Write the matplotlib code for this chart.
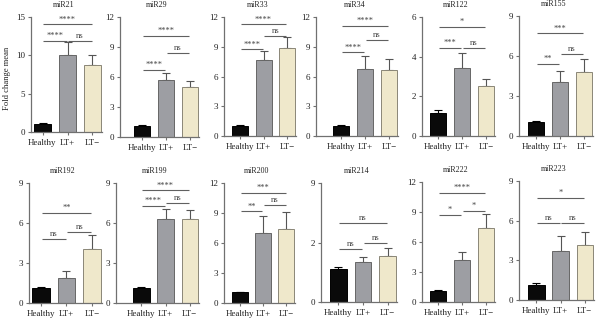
import matplotlib
matplotlib.use("Agg")
import matplotlib.pyplot as plt

plt.rcParams['font.family'] = ['Liberation Serif', 'DejaVu Serif']

groups = ["Healthy", "LT+", "LT\u2212"]
names = ["miR21", "miR29", "miR33", "miR34", "miR122", "miR155",
         "miR192", "miR199", "miR200", "miR214", "miR222", "miR223"]

means = {
    "miR21": [1.04, 10.04, 8.70],
    "miR29": [1.10, 5.70, 4.97],
    "miR33": [1.04, 7.66, 8.84],
    "miR34": [1.04, 6.75, 6.62],
    "miR122": [1.14, 3.43, 2.52],
    "miR155": [1.07, 4.03, 4.78],
    "miR192": [1.12, 1.88, 4.03],
    "miR199": [1.10, 6.28, 6.28],
    "miR200": [1.07, 7.00, 7.43],
    "miR214": [1.11, 1.33, 1.56],
    "miR222": [1.10, 4.23, 7.43],
    "miR223": [1.13, 3.70, 4.15],
}
errors = {
    "miR21": [0.11, 1.71, 1.40],
    "miR29": [0.07, 0.70, 0.63],
    "miR33": [0.08, 0.94, 1.11],
    "miR34": [0.08, 1.35, 1.11],
    "miR122": [0.17, 0.74, 0.35],
    "miR155": [0.08, 0.84, 0.97],
    "miR192": [0.07, 0.52, 1.05],
    "miR199": [0.07, 0.76, 0.67],
    "miR200": [0.08, 1.70, 1.67],
    "miR214": [0.08, 0.17, 0.25],
    "miR222": [0.07, 0.77, 1.40],
    "miR223": [0.13, 1.15, 1.00],
}
# significance brackets: (group i, group j, height, label)
brackets = {
    "miR21": [(0, 1, 11.9, "****"), (1, 2, 11.9, "ns"), (0, 2, 14.05, "****")],
    "miR29": [(0, 1, 6.7, "****"), (1, 2, 8.4, "ns"), (0, 2, 10.1, "****")],
    "miR33": [(0, 1, 8.74, "****"), (1, 2, 10.1, "ns"), (0, 2, 11.26, "****")],
    "miR34": [(0, 1, 8.44, "****"), (1, 2, 9.68, "ns"), (0, 2, 11.1, "****")],
    "miR122": [(0, 1, 4.45, "***"), (1, 2, 4.45, "ns"), (0, 2, 5.51, "*")],
    "miR155": [(0, 1, 5.4, "**"), (1, 2, 6.15, "ns"), (0, 2, 7.7, "***")],
    "miR192": [(0, 1, 4.83, "ns"), (1, 2, 5.33, "ns"), (0, 2, 6.78, "**")],
    "miR199": [(0, 1, 7.29, "****"), (1, 2, 7.49, "ns"), (0, 2, 8.44, "****")],
    "miR200": [(0, 1, 9.17, "**"), (1, 2, 9.77, "ns"), (0, 2, 11.0, "***")],
    "miR214": [(0, 1, 1.78, "ns"), (1, 2, 2.0, "ns"), (0, 2, 2.67, "ns")],
    "miR222": [(0, 1, 8.73, "*"), (1, 2, 9.1, "*"), (0, 2, 10.93, "****")],
    "miR223": [(0, 1, 5.85, "ns"), (1, 2, 5.85, "ns"), (0, 2, 7.7, "*")],
}
yticks = {
    "miR21": [0, 5, 10, 15],
    "miR29": [0, 3, 6, 9, 12],
    "miR33": [0, 3, 6, 9, 12],
    "miR34": [0, 3, 6, 9, 12],
    "miR122": [0, 2, 4, 6],
    "miR155": [0, 3, 6, 9],
    "miR192": [0, 3, 6, 9],
    "miR199": [0, 3, 6, 9],
    "miR200": [0, 3, 6, 9, 12],
    "miR214": [0, 2, 4],
    "miR222": [0, 3, 6, 9, 12],
    "miR223": [0, 3, 6, 9],
}
ytick_labels = {"miR214": ["0", "2", "9"]}

# layout in pixels: left spine, right end, top, bottom, gap before first bar
layout = {
    "miR21": (31, 102, 17, 132, 3),
    "miR29": (120, 199, 17, 137, 14),
    "miR33": (224, 296, 17, 136, 8),
    "miR34": (316, 398, 17, 136, 17),
    "miR122": (422, 495, 17, 136, 8),
    "miR155": (519, 593, 16, 136, 9),
    "miR192": (29, 102, 183, 303, 3),
    "miR199": (116, 199, 183, 303, 17),
    "miR200": (224, 295, 183, 303, 8),
    "miR214": (321, 397, 183, 302, 9),
    "miR222": (422, 495, 182, 302, 8),
    "miR223": (519, 594, 181, 300, 9),
}

fills = ["#0a0a0a", "#9d9ea3", "#efe8cb"]
edges = ["#000000", "#666666", "#8a8677"]
errc = ["#000000", "#555555", "#555555"]
axc = "#707070"
W, H = 600, 320
bw = 0.68

fig = plt.figure(figsize=(6, 3.2), dpi=100)
for name in names:
    L, R, T, B, gp = layout[name]
    ax = fig.add_axes([L / W, 1 - B / H, (R - L) / W, (B - T) / H])
    ppu = (R - L - gp) / 2.72
    left = -bw / 2 - gp / ppu
    ax.set_xlim(left, left + (R - L) / ppu)
    yt = yticks[name]
    ax.set_ylim(0, yt[-1])
    x = [0, 1, 2]
    m = means[name]
    e = errors[name]
    for i in x:
        ax.bar(i, m[i], width=bw, color=fills[i], edgecolor=edges[i], linewidth=0.7, zorder=2)
        ax.errorbar(i, m[i], yerr=[[0], [e[i]]], fmt='none', ecolor=errc[i],
                    elinewidth=0.8, capsize=3.2, capthick=0.8, zorder=1)
    for (i, j, h, lab) in brackets[name]:
        ax.plot([i + 0.03, j - 0.03], [h, h], color="#606060", lw=0.8, solid_capstyle='butt', clip_on=False)
        ax.annotate(lab, xy=((i + j) / 2, h), xytext=(0, 0.6), textcoords='offset points',
                    ha='center', va='bottom', fontsize=6 if lab != "ns" else 6.3,
                    color="#444444")
    ax.set_yticks(yt)
    ax.set_yticklabels(ytick_labels.get(name, [str(v) for v in yt]))
    ax.set_xticks(x)
    ax.set_xticklabels(groups)
    for s in ["top", "right"]:
        ax.spines[s].set_visible(False)
    for s in ["left", "bottom"]:
        ax.spines[s].set_color(axc)
        ax.spines[s].set_linewidth(0.9)
    ax.tick_params(axis='both', labelsize=6.5, length=2.2, width=0.8, color=axc,
                   labelcolor="#222222")
    ax.tick_params(axis='x', pad=3)
    ax.tick_params(axis='y', pad=2)
    ax.annotate(name, xy=(0.5, 1), xycoords='axes fraction', xytext=(-2, 8.5),
                textcoords='offset points', ha='center', va='center',
                fontsize=5.8, color="#222222")

fig.text(7 / W, 1 - 78 / H, "Fold change mean", rotation=90, ha='center', va='center',
         fontsize=6.2, color="#222222")

fig.savefig("out.png", dpi=100)
